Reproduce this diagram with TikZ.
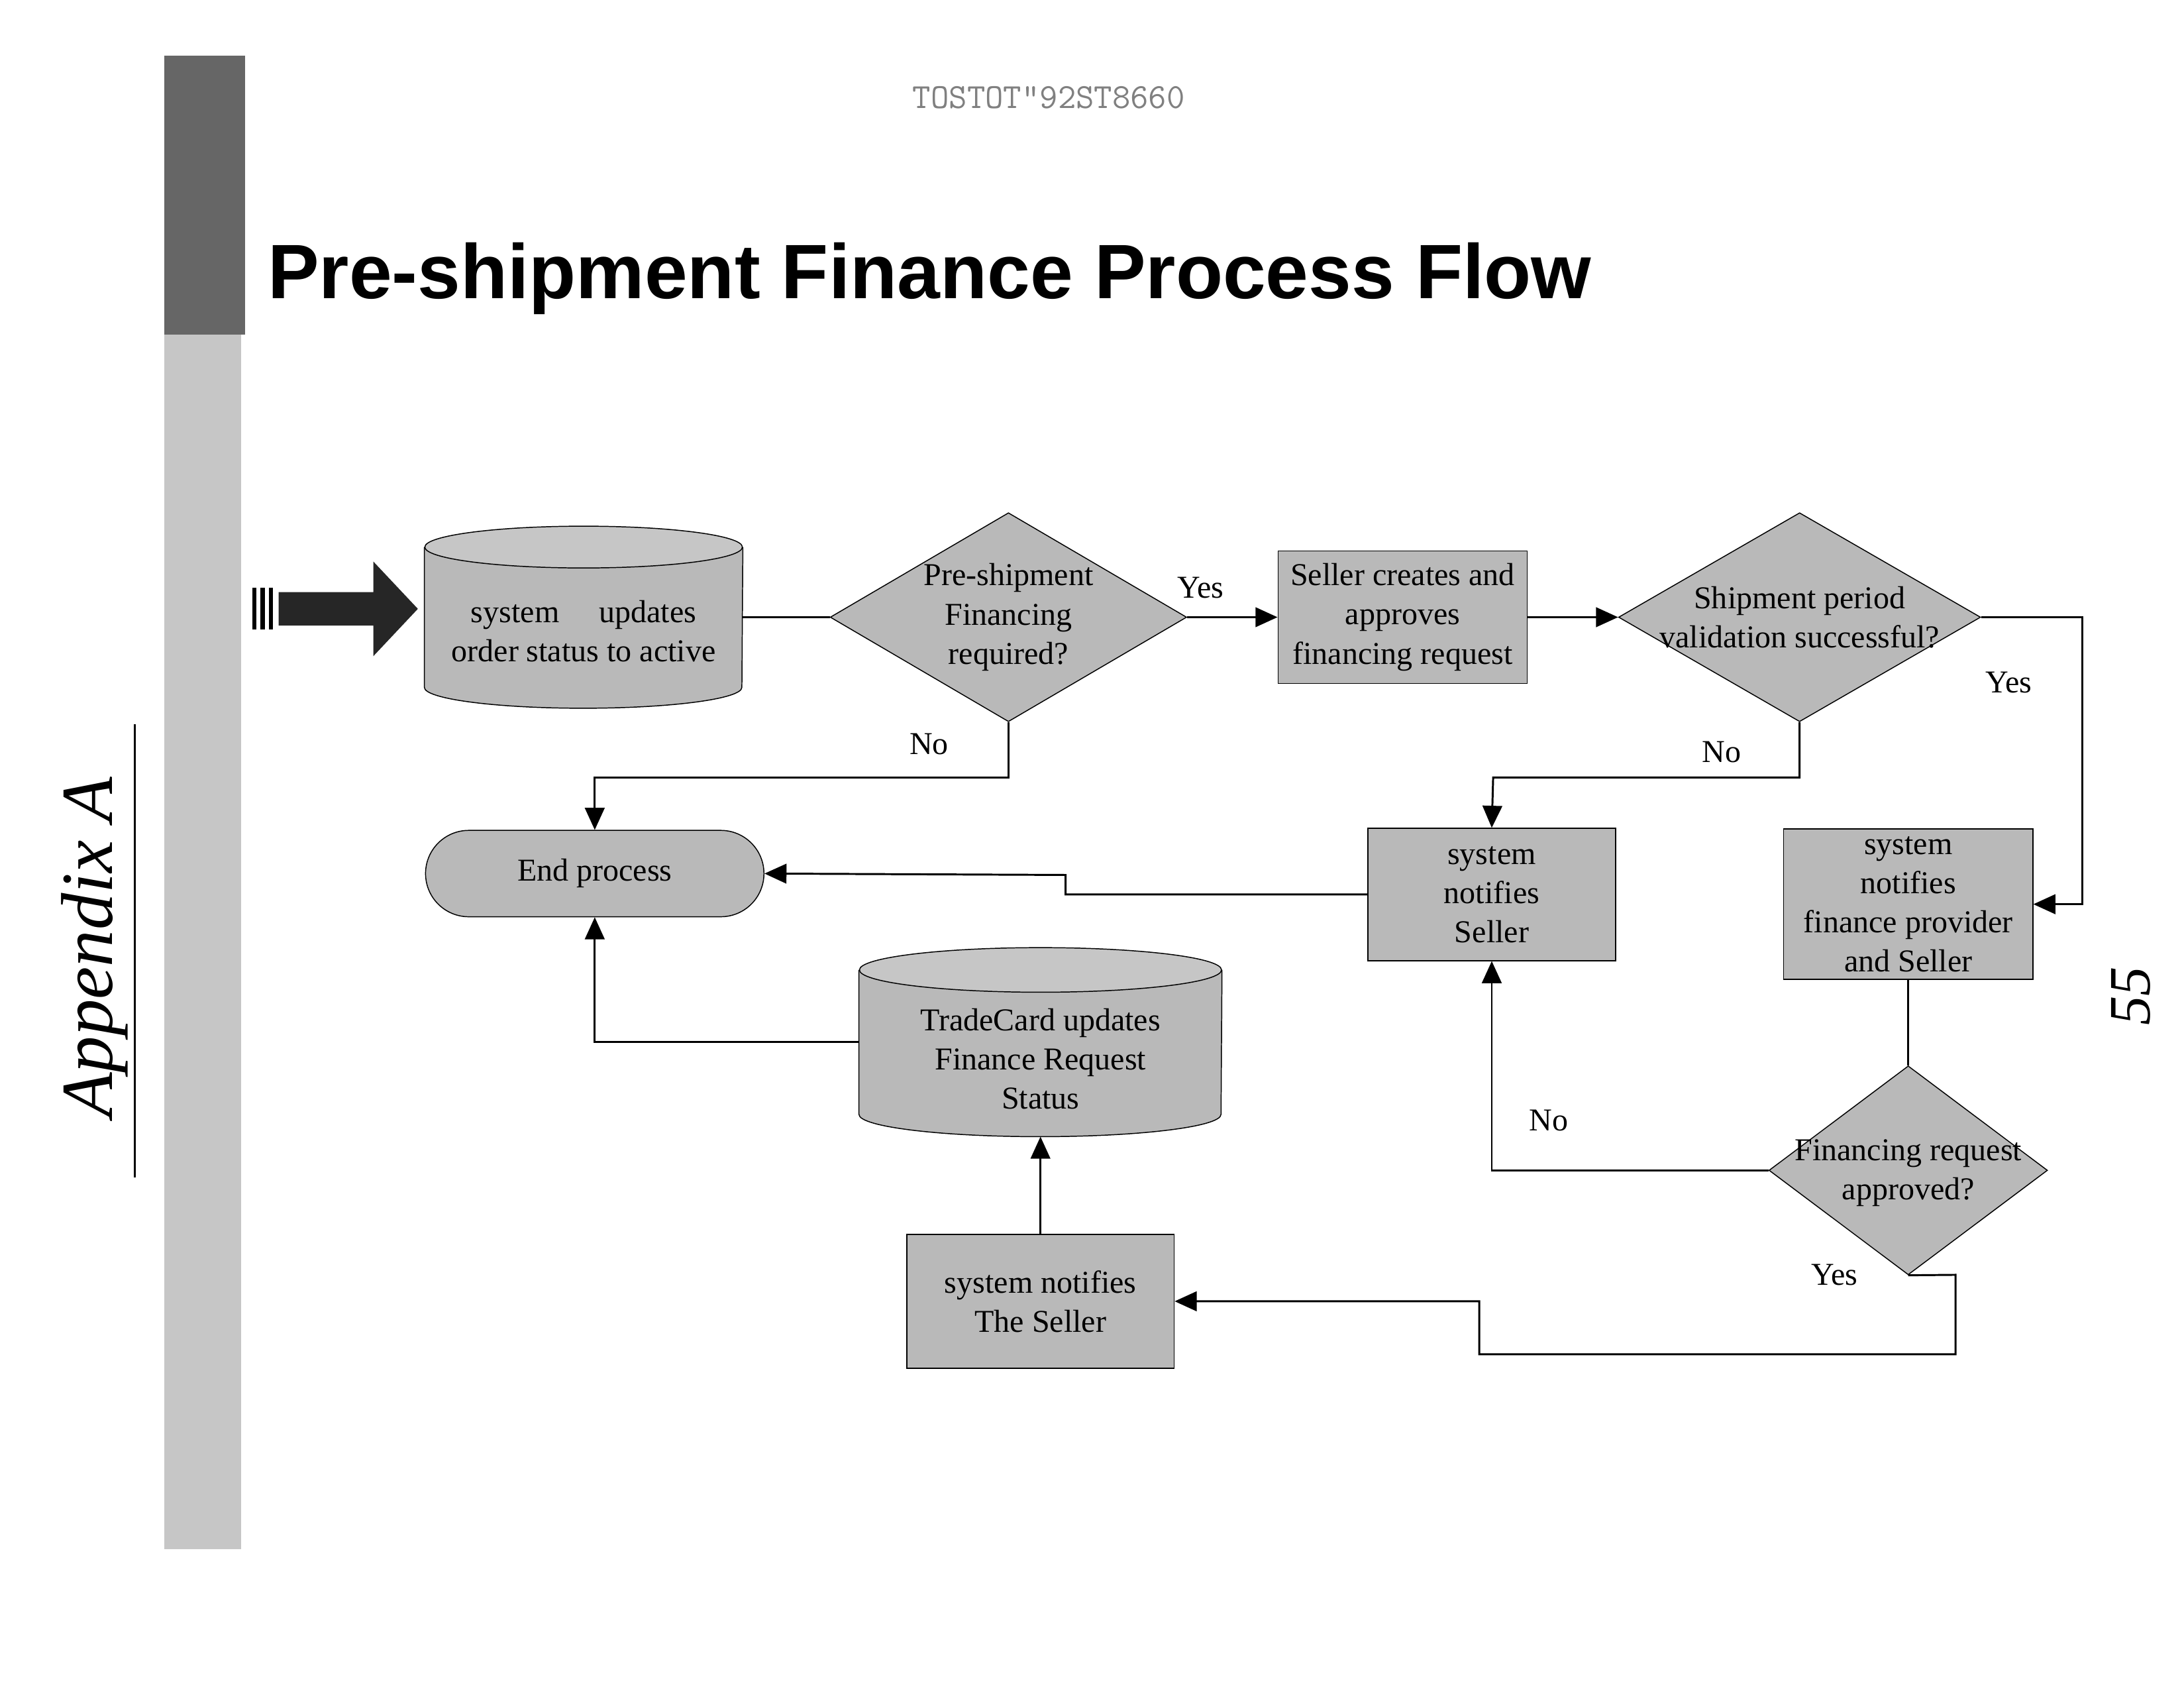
\documentclass[tikz,border=0pt]{standalone}
\usepackage{fontspec}
\setmainfont{Liberation Serif}
\newfontfamily\titlefont{Liberation Sans}
\usetikzlibrary{shapes.geometric,arrows.meta}

\tikzset{
  task/.style={draw, fill=gray!55, minimum width=3.58cm, minimum height=1.9cm, inner sep=0pt, align=center},
  decide/.style={draw, diamond, fill=gray!55, minimum width=5.12cm, minimum height=3cm, inner sep=0pt},
  store/.style={inner sep=0pt, align=center},
  txt/.style={align=center, font=\fontsize{13}{16}\selectfont},
  flow/.style={thick, -{Triangle[length=9pt, width=8pt]}},
  seg/.style={thick}
}
% cylinder outline round a named node: name, x radius, y radius
\newcommand{\drum}[3]{%
  \draw[fill=gray!55] ([yshift=-#3]#1.north west) -- ([yshift=#3]#1.south west)
    arc[start angle=180, end angle=360, x radius=#2, y radius=#3] -- ([yshift=-#3]#1.north east);
  \draw[fill=gray!45] ([yshift=-#3]#1.north) ellipse[x radius=#2, y radius=#3];
}

\begin{document}
\begin{tikzpicture}[x=0.02cm, y=-0.02cm, font=\fontsize{13}{16}\selectfont]
    \useasboundingbox (0,0) rectangle (1568,1209);
    % left bars
    \fill[gray!80!black] (118,40) rectangle (176,240);
    \fill[gray!45] (118,240) rectangle (173,1112);
    % stamp and title
    \node[gray, font=\ttfamily\Large] (stamp) at (753,70) {TOSTOT"92ST8660};
    \node[anchor=west, font=\titlefont\bfseries\fontsize{31.5}{36}\selectfont] (title) at (186,200) {Pre-shipment Finance Process Flow};
    \node[rotate=90, font=\itshape\fontsize{30}{34}\selectfont] (appx) at (68,680) {Appendix A};
    \draw[thick] (97,520) -- (97,845);
    \node[rotate=90, font=\itshape\fontsize{24}{28}\selectfont] (page) at (1530,715) {55};

    % entry arrow
    \fill[gray!30!black] (200,425) -- (268,425) -- (268,403) -- (300,437) -- (268,471) -- (268,449) -- (200,449) -- cycle;
    \foreach \x in {181,187,193}
        \fill (\x,422) rectangle (\x+3,452);

    % nodes
    \node[store, minimum width=4.56cm, minimum height=2.6cm] (orders) at (419,443) {};
    \drum{orders}{2.28cm}{0.3cm}
    \node[txt] at (419,453) {system \quad updates\\order status to active};
    \node[decide] (needfin) at (724,443) {};
    \node[txt] at (724,443) {Pre-shipment\\Financing\\required?};
    \node[task] (request) at (1007,443) {};
    \node[txt] at (1007,443) {Seller creates and\\approves\\financing request};
    \node[decide, minimum width=5.2cm] (period) at (1292,443) {};
    \node[txt] at (1292,443) {Shipment period\\validation successful?};
    \node[draw, fill=gray!55, rounded corners=0.62cm, minimum width=4.86cm, minimum height=1.24cm] (endproc) at (427,627) {End process};
    \node[task, minimum width=3.56cm] (tellseller) at (1071,642) {};
    \node[txt] at (1071,642) {system\\notifies\\Seller};
    \node[task, minimum height=2.16cm] (tellboth) at (1370,649) {};
    \node[txt] at (1370,649) {system\\notifies\\finance provider\\and Seller};
    \node[decide, minimum width=4cm] (approved) at (1370,840) {};
    \node[txt] at (1370,842) {Financing request\\approved?};
    \node[task, minimum width=3.84cm, minimum height=1.92cm] (sellerdone) at (747,934) {};
    \node[txt] at (747,934) {system notifies\\The Seller};
    \node[store, minimum width=5.2cm, minimum height=2.7cm] (status) at (747,748) {};
    \drum{status}{2.6cm}{0.32cm}
    \node[txt] at (747,760) {TradeCard updates\\Finance Request\\Status};

    % connectors
    \draw[seg] (orders.east) -- (needfin.west);
    \draw[flow] (needfin.east) -- (request.west);
    \draw[flow] (request.east) -- (period.west);
    \draw[flow] (period.east) -- (1495,443) |- (tellboth.east);
    \draw[flow] (period.south) |- (1072,558) -- (tellseller.north);
    \draw[flow] (needfin.south) |- (427,558) -- (endproc.north);
    \draw[flow] (tellseller.west) -| (765,628) -- (endproc.east);
    \draw[seg] (tellboth.south) -- (approved.north);
    \draw[flow] (approved.west) -| (tellseller.south);
    \draw[flow] (approved.south) -- (1404,915) |- (1062,972) |- (sellerdone.east);
    \draw[flow] (sellerdone.north) -- (status.south);
    \draw[flow] (status.west) -| (endproc.south);

    % labels
    \node (yes1) at (862,422) {Yes};
    \node (no1) at (667,534) {No};
    \node (yes2) at (1442,490) {Yes};
    \node (no2) at (1236,540) {No};
    \node (no3) at (1112,804) {No};
    \node (yes3) at (1317,915) {Yes};
\end{tikzpicture}
\end{document}
